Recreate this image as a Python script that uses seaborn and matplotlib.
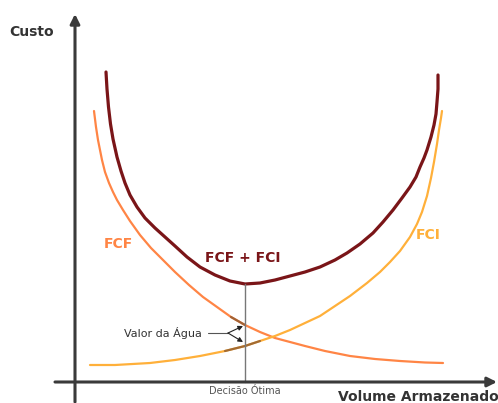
import pandas as pd
import seaborn as sns
import matplotlib.pyplot as plt

# values (volume units, cost units)
fcf_x = [19, 21, 23, 25, 27, 30, 34, 38, 42, 48, 55, 65, 76, 88, 100, 114,
         128, 142, 156, 170, 185, 200, 215, 230, 250, 275, 300, 325, 350, 368]
fcf_y = [271, 255, 242, 232, 222, 210, 199, 190, 182, 172, 161, 147, 134, 122,
         110, 97, 85, 75, 65, 57, 50, 44, 40, 36, 31, 26, 23, 21, 19.5, 19]

fci_x = [15, 40, 75, 100, 125, 150, 170, 185, 200, 215, 230, 245, 260, 275,
         292, 305, 315, 325, 335, 342, 347, 352, 356, 359, 362, 364, 366, 367]
fci_y = [17, 17, 19, 22, 26, 31, 36, 41, 46, 52, 59, 66, 76, 86, 99, 110,
         120, 131, 145, 158, 170, 186, 204, 220, 238, 252, 264, 271]

total_x = [31, 32, 33.5, 35.5, 38, 42, 46, 50, 55, 62, 70, 80, 90, 100, 112,
           125, 140, 155, 170, 185, 200, 215, 230, 245, 260, 272, 285, 298,
           308, 318, 327, 335, 341, 345, 349, 352, 356, 359, 361, 362, 363, 363]
total_y = [310, 293, 275, 258, 243, 225, 211, 199, 187, 175, 164, 154, 145,
           136, 125, 115, 107, 101, 98, 99, 102, 106, 110, 115, 122, 129, 138,
           149, 160, 172, 184, 195, 205, 215, 224, 232, 245, 257, 268, 280,
           293, 307]

x_otimo = 170

DARK_RED = "#7a1518"
ORANGE = "#ff8545"
LIGHT_ORANGE = "#ffb03a"
BROWN = "#8c5a30"
AXIS = "#3a3a3a"


def make_frame(xs, ys, name):
    df = pd.DataFrame({"Volume": xs, "Custo": ys})
    df["Curva"] = name
    return df


def main():
    sns.set_style("white")
    plt.rcParams["font.family"] = ["DejaVu Sans"]

    fig = plt.figure(figsize=(4.98, 4.03), dpi=100)
    ax = fig.add_axes([0, 0, 1, 1])
    ax.set_xlim(-75, 423)
    ax.set_ylim(-21, 382)
    ax.axis("off")

    fcf = make_frame(fcf_x, fcf_y, "FCF")
    fci = make_frame(fci_x, fci_y, "FCI")
    total = make_frame(total_x, total_y, "FCF + FCI")

    sns.lineplot(data=fcf, x="Volume", y="Custo", ax=ax, color=ORANGE,
                 lw=1.6, sort=False, estimator=None)
    sns.lineplot(data=fci, x="Volume", y="Custo", ax=ax, color=LIGHT_ORANGE,
                 lw=1.6, sort=False, estimator=None)
    sns.lineplot(data=total, x="Volume", y="Custo", ax=ax, color=DARK_RED,
                 lw=2.3, sort=False, estimator=None, solid_capstyle="round")

    # darker stretch of each curve around the optimum (the slope = water value)
    near_fcf = fcf[(fcf["Volume"] >= 156) & (fcf["Volume"] <= 175)]
    near_fci = fci[(fci["Volume"] >= 150) & (fci["Volume"] <= 185)]
    sns.lineplot(data=near_fcf, x="Volume", y="Custo", ax=ax, color=BROWN,
                 lw=1.6, sort=False, estimator=None, alpha=0.8)
    sns.lineplot(data=near_fci, x="Volume", y="Custo", ax=ax, color=BROWN,
                 lw=1.6, sort=False, estimator=None, alpha=0.8)

    # optimal decision line, up to the minimum of the total cost
    y_min = min(total_y)
    ax.plot([x_otimo, x_otimo], [0, y_min], color="#777777", lw=1)

    # axes with arrows
    ax.annotate("", xy=(422, 0), xytext=(-20, 0),
                arrowprops=dict(arrowstyle="-|>", color=AXIS, lw=2.2,
                                mutation_scale=14, shrinkA=0, shrinkB=0))
    ax.annotate("", xy=(0, 368), xytext=(0, -20),
                arrowprops=dict(arrowstyle="-|>", color=AXIS, lw=2.2,
                                mutation_scale=14, shrinkA=0, shrinkB=0))

    # labels
    ax.text(-43, 350, "Custo", fontsize=10, fontweight="bold", color="#333333",
            ha="center", va="center")
    ax.text(263, -15, "Volume Armazenado", fontsize=10, fontweight="bold",
            color="#333333", ha="left", va="center")
    ax.text(x_otimo, -9, "Decisão Ótima", fontsize=7, color="#555555",
            ha="center", va="center")
    ax.text(43, 138, "FCF", fontsize=10, fontweight="bold", color=ORANGE,
            ha="center", va="center")
    ax.text(353, 147, "FCI", fontsize=10, fontweight="bold", color=LIGHT_ORANGE,
            ha="center", va="center")
    ax.text(x_otimo - 2, 124, "FCF + FCI", fontsize=10, fontweight="bold",
            color=DARK_RED, ha="center", va="center")

    # valor da agua annotation
    ax.text(127, 49, "Valor da Água", fontsize=8, color="#333333",
            ha="right", va="center")
    ax.plot([133, 153], [49, 49], color="#555555", lw=0.8)
    for y_end in (56, 40):
        ax.annotate("", xy=(x_otimo - 2, y_end), xytext=(153, 49),
                    arrowprops=dict(arrowstyle="-|>", color="#222222", lw=0.8,
                                    mutation_scale=7, shrinkA=0, shrinkB=0))

    fig.savefig("out.png", dpi=100)


if __name__ == "__main__":
    main()
